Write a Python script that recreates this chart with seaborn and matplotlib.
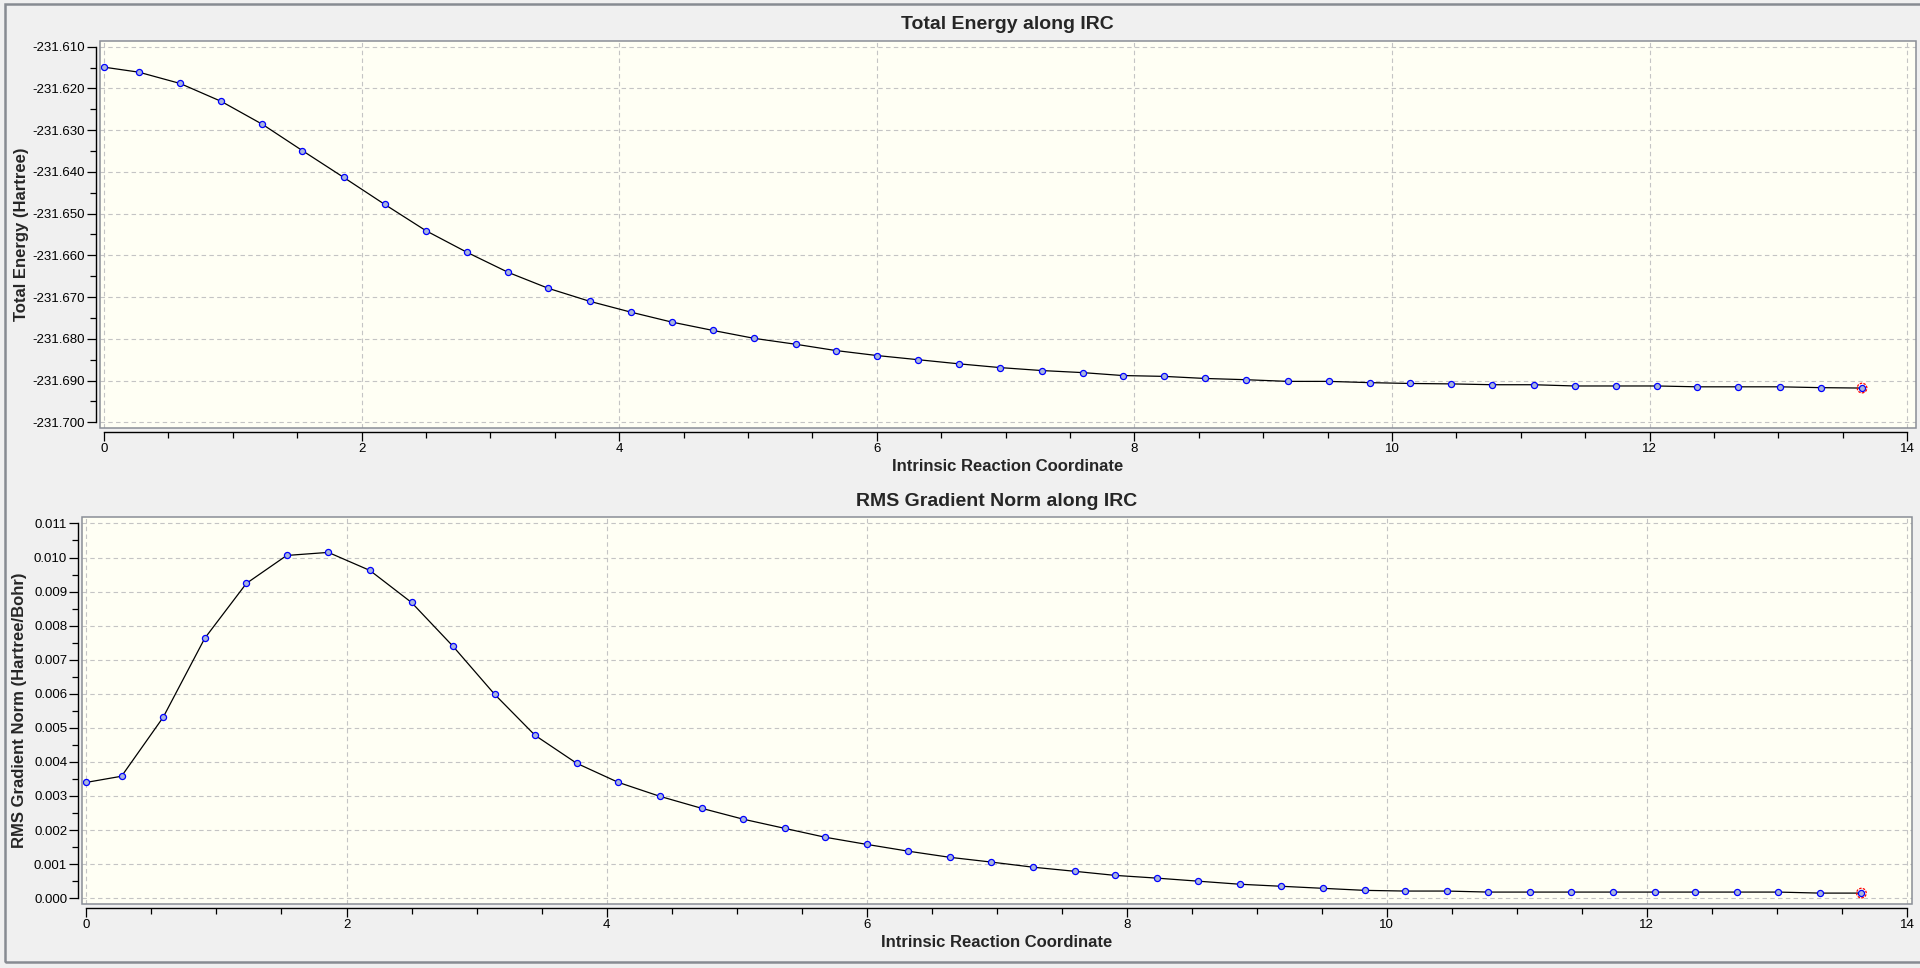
import matplotlib
matplotlib.use("Agg")
import matplotlib.pyplot as plt
import seaborn as sns
from matplotlib.patches import Rectangle
from matplotlib.ticker import MultipleLocator, FormatStrFormatter

sns.set_theme(style="ticks")
plt.rcParams['font.family'] = ['Liberation Sans', 'DejaVu Sans']
plt.rcParams['axes.unicode_minus'] = False

# IRC points
irc = [0.00, 0.27, 0.59, 0.91, 1.23, 1.54, 1.86, 2.18, 2.50, 2.82,
       3.14, 3.45, 3.77, 4.09, 4.41, 4.73, 5.05, 5.37, 5.68, 6.00,
       6.32, 6.64, 6.96, 7.28, 7.60, 7.91, 8.23, 8.55, 8.87, 9.19,
       9.51, 9.83, 10.14, 10.46, 10.78, 11.10, 11.42, 11.74, 12.06, 12.37,
       12.69, 13.01, 13.33, 13.65]

energy = [-231.6149, -231.6161, -231.6188, -231.6231, -231.6286, -231.6349,
          -231.6413, -231.6478, -231.6541, -231.6593, -231.6641, -231.6679,
          -231.6710, -231.6736, -231.6760, -231.6780, -231.6799, -231.6813,
          -231.6828, -231.6840, -231.6850, -231.6860, -231.6869, -231.6876,
          -231.6881, -231.6888, -231.6890, -231.6895, -231.6898, -231.6902,
          -231.6902, -231.6905, -231.6907, -231.6908, -231.6910, -231.6910,
          -231.6913, -231.6913, -231.6913, -231.6915, -231.6915, -231.6915,
          -231.6917, -231.6918]

rms_grad = [0.00340, 0.00358, 0.00531, 0.00763, 0.00924, 0.01006, 0.01015,
            0.00962, 0.00868, 0.00739, 0.00598, 0.00478, 0.00396, 0.00340,
            0.00299, 0.00264, 0.00232, 0.00205, 0.00179, 0.00158, 0.00138,
            0.00120, 0.00106, 0.00091, 0.00079, 0.00067, 0.00059, 0.00050,
            0.00041, 0.00035, 0.00029, 0.00023, 0.00021, 0.00021, 0.00018,
            0.00018, 0.00018, 0.00018, 0.00018, 0.00018, 0.00018, 0.00018,
            0.00015, 0.00015]

W, H = 1920, 968
fig = plt.figure(figsize=(19.2, 9.68), dpi=100)
fig.patch.set_facecolor('#f0f0f0')

# outer panel border
fig.patches.append(Rectangle((4.5 / W, 1 - 961.5 / H), 1.0, (961.5 - 4) / H,
                             transform=fig.transFigure, fill=False,
                             edgecolor='#878b92', lw=1.8, zorder=0))

ax1 = fig.add_axes([99.5 / W, 1 - 428 / H, (1915.5 - 99.5) / W, (428 - 40.7) / H])
ax2 = fig.add_axes([81.5 / W, 1 - 904 / H, (1911.5 - 81.5) / W, (904 - 517.3) / H])


def style_axis(ax, ylo, yhi, ymaj, ymin, xlim, ylim, ylab_x):
    ax.set_facecolor('#fffff4')
    ax.set_xlim(*xlim)
    ax.set_ylim(*ylim)
    ax.xaxis.set_major_locator(MultipleLocator(2))
    ax.xaxis.set_minor_locator(MultipleLocator(0.5))
    ax.yaxis.set_major_locator(MultipleLocator(ymaj))
    ax.yaxis.set_minor_locator(MultipleLocator(ymin))
    ax.yaxis.set_major_formatter(FormatStrFormatter('%.3f'))
    ax.grid(True, which='major', color='#c4c4c4', ls=(0, (4, 3)), lw=0.8)
    ax.set_axisbelow(True)
    for s in ['top', 'right']:
        ax.spines[s].set_visible(False)
    ax.spines['left'].set_position(('outward', 2.3))
    ax.spines['bottom'].set_position(('outward', 2.9))
    ax.spines['left'].set_bounds(ylo, yhi)
    ax.spines['bottom'].set_bounds(0, 14)
    for s in ['left', 'bottom']:
        ax.spines[s].set_color('black')
        ax.spines[s].set_linewidth(1.0)
    ax.tick_params(which='major', length=6.5, width=0.9, color='black',
                   pad=1.5, labelsize=9.5, labelcolor='black')
    ax.tick_params(which='minor', length=4, width=0.9, color='black')
    ax.add_patch(Rectangle((0, 0), 1, 1, transform=ax.transAxes, fill=False,
                           edgecolor='#8a8e96', lw=1.1, clip_on=False, zorder=5))
    ax.set_xlabel('Intrinsic Reaction Coordinate', fontsize=12, fontweight='bold')
    ax.xaxis.set_label_coords(0.5, -0.079)
    ax.yaxis.set_label_coords(ylab_x, 0.5)


def draw_series(ax, y):
    sns.lineplot(x=irc, y=y, ax=ax, color='black', lw=0.9, marker='o',
                 markersize=4.4, markerfacecolor='#a9b6dd',
                 markeredgecolor='#0000ff', markeredgewidth=0.9,
                 errorbar=None, sort=False)
    ax.scatter([irc[-1]], [y[-1]], s=48, facecolors='none', edgecolors='red',
               linewidths=0.9, linestyles=(0, (2, 1)), zorder=6)


draw_series(ax1, energy)
style_axis(ax1, -231.700, -231.610, 0.010, 0.005, (-0.035, 14.065),
           (-231.70137, -231.60856), -0.043)
ax1.set_title('Total Energy along IRC', fontsize=14, fontweight='bold', pad=8.4)
ax1.set_ylabel('Total Energy (Hartree)', fontsize=12, fontweight='bold', va='center')

draw_series(ax2, rms_grad)
style_axis(ax2, 0.0, 0.011, 0.001, 0.0005, (-0.038, 14.035),
           (-0.00017, 0.01118), -0.0338)
ax2.set_title('RMS Gradient Norm along IRC', fontsize=14, fontweight='bold', pad=8.4)
ax2.set_ylabel('RMS Gradient Norm (Hartree/Bohr)', fontsize=12, fontweight='bold',
               va='center')

fig.savefig('out.png', dpi=100, facecolor=fig.get_facecolor())
